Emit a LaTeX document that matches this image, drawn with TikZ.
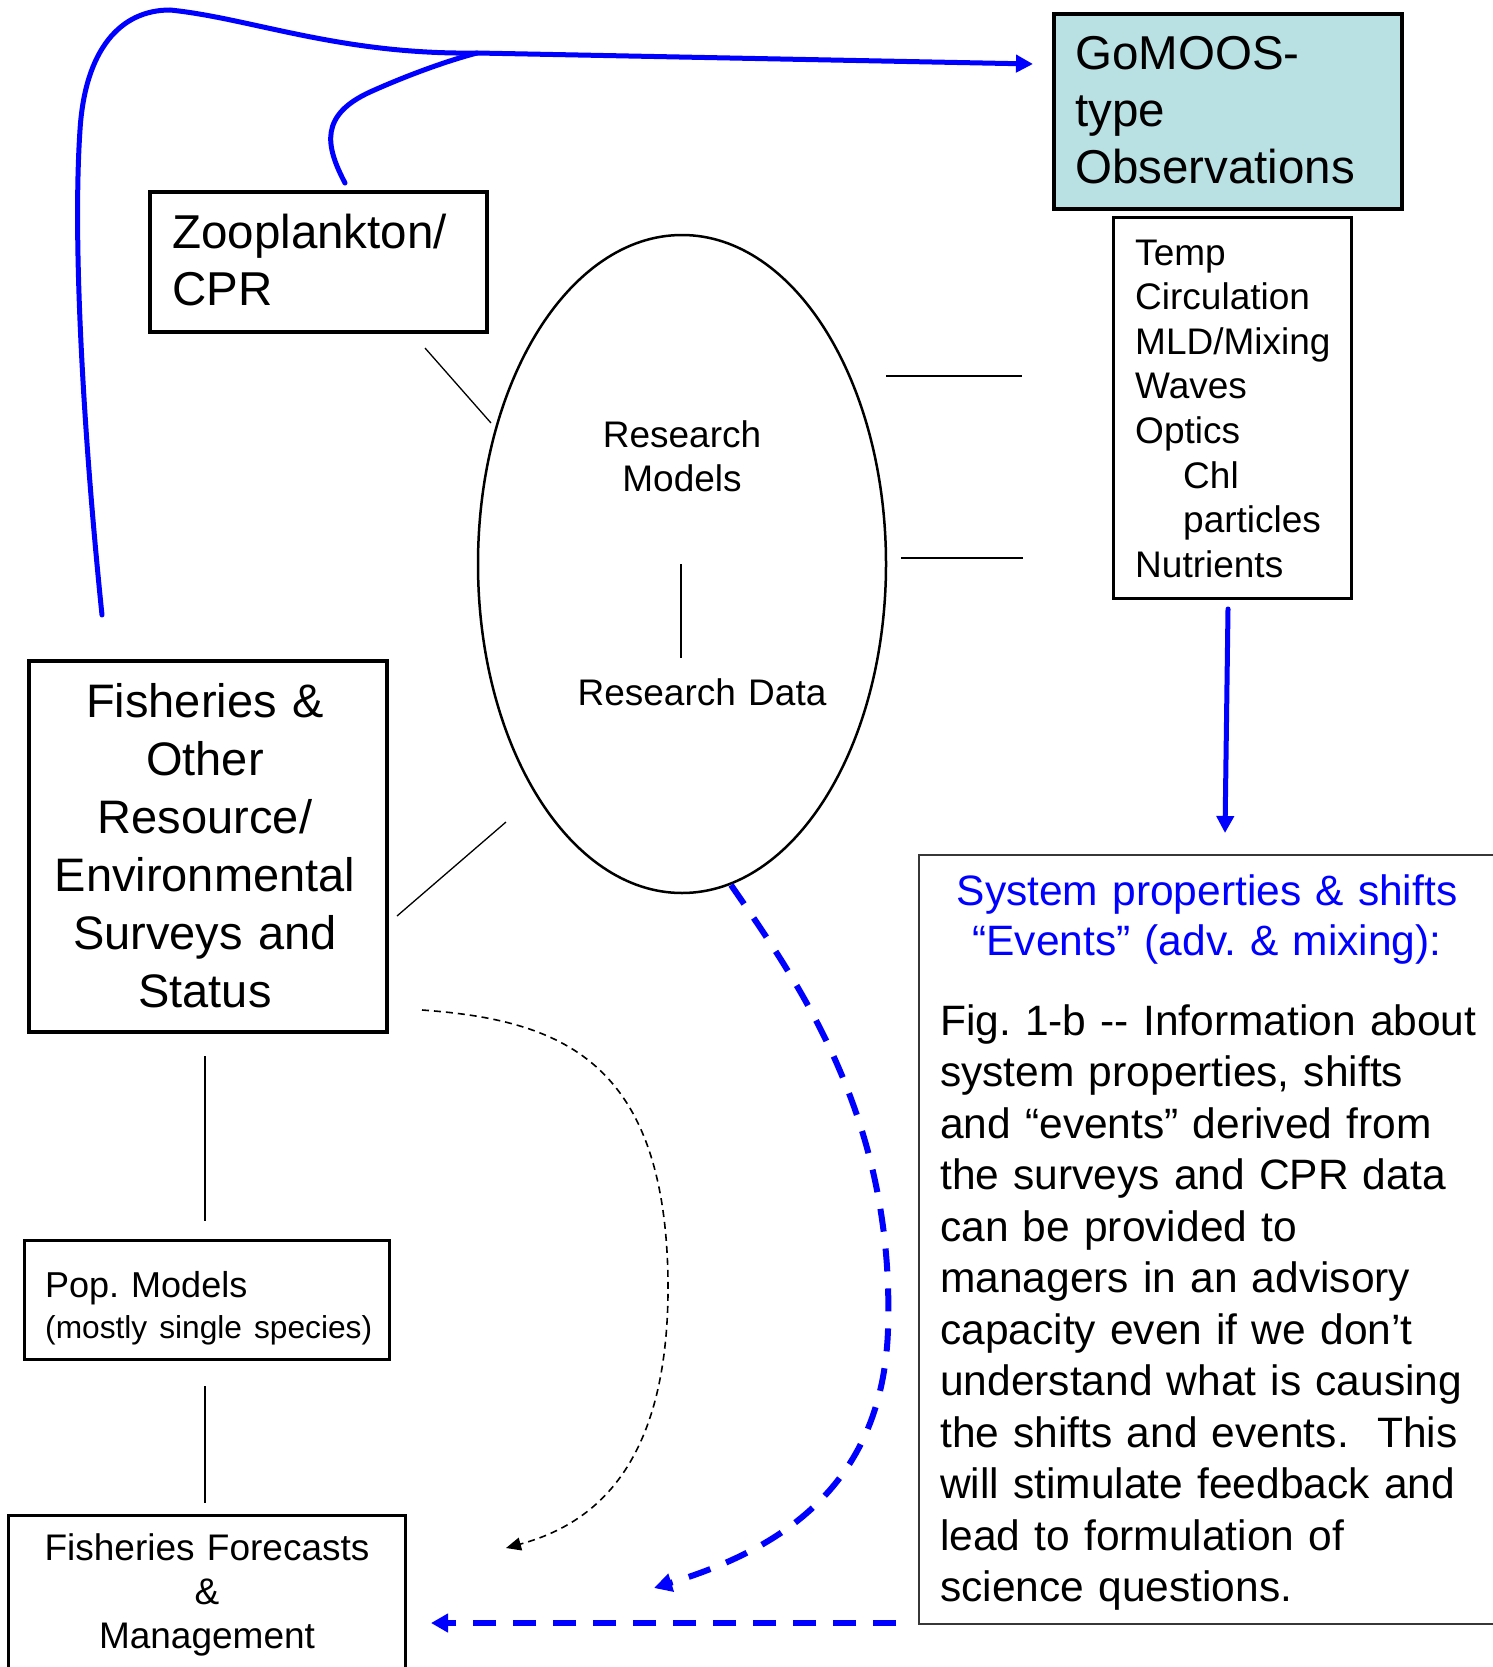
\documentclass[tikz,border=0pt]{standalone}
\usepackage{fontspec}
\setmainfont{Liberation Sans}
\usetikzlibrary{arrows.meta,shapes.geometric}

\definecolor{gomoosfill}{RGB}{185,224,227}
\definecolor{flowblue}{RGB}{0,0,255}
\definecolor{framegray}{RGB}{55,55,55}

\tikzset{
  boxframe/.style={draw=black, line width=4pt, rectangle, inner sep=0pt, anchor=north west},
  thinframe/.style={draw=black, line width=2.5pt, rectangle, inner sep=0pt, anchor=north west},
  lbl/.style={inner sep=0pt, anchor=base west, align=left, text width=#1},
  lbl/.default=400pt,
  clbl/.style={inner sep=0pt, anchor=base, align=center, text width=#1},
  clbl/.default=400pt,
  link/.style={draw=black, line width=1.3pt},
  blueflow/.style={draw=flowblue, line width=5pt, line cap=round},
  bluedash/.style={draw=flowblue, line width=6pt, dash pattern=on 23pt off 17pt},
  blackdash/.style={draw=black, line width=1.6pt, dash pattern=on 7pt off 5pt},
  bluetip/.style={-{Triangle[length=17pt,width=17pt]}},
}

\frenchspacing

\begin{document}
\begin{tikzpicture}[x=1pt,y=-1pt]
  % canvas
  \fill[white] (0,0) rectangle (1492,1667);
  \useasboundingbox (0,0) rectangle (1492,1667);

  % ---- boxes ----
  \node[boxframe, fill=gomoosfill, minimum width=348pt, minimum height=195pt] (gomoos) at (1052,12) {};
  \node[lbl, font=\fontsize{47.5}{57}\selectfont] (gomoosText) at (1075,70) {GoMOOS-\\type\\Observations};

  \node[thinframe, minimum width=238pt, minimum height=381pt] (vars) at (1112,216) {};
  \node[lbl, font=\fontsize{37}{44.6}\selectfont] (varsText) at (1135,265)
    {Temp\\Circulation\\MLD/Mixing\\Waves\\Optics\\\hspace*{48pt}Chl\\\hspace*{48pt}particles\\Nutrients};

  \node[boxframe, minimum width=337pt, minimum height=140pt] (zoo) at (148,190) {};
  \node[lbl, font=\fontsize{47.5}{57}\selectfont] (zooText) at (172,248) {Zooplankton/\\CPR};

  \node[boxframe, minimum width=358pt, minimum height=371pt] (fish) at (27,659) {};
  \node[clbl, font=\fontsize{47}{58}\selectfont] (fishText) at (205,717)
    {Fisheries \&\\Other\\Resource/\\Environmental\\Surveys and\\Status};

  \node[thinframe, minimum width=365pt, minimum height=119pt] (pop) at (23,1239) {};
  \node[lbl, font=\fontsize{36}{41}\selectfont] (popText) at (45,1297)
    {Pop. Models\\{\fontsize{31.7}{41}\selectfont (mostly single species)}};

  \node[thinframe, line width=3pt, minimum width=397pt, minimum height=170pt] (fcast) at (7,1514) {};
  \node[clbl, font=\fontsize{37}{44}\selectfont] (fcastText) at (207,1560)
    {Fisheries Forecasts\\\&\\Management};

  \node[draw=black, line width=2.5pt, ellipse, inner sep=0pt,
        minimum width=408pt, minimum height=658pt] (research) at (682,564) {};
  \node[clbl, font=\fontsize{37}{44}\selectfont] (modelsText) at (682,447) {Research\\Models};
  \node[clbl, font=\fontsize{37}{44}\selectfont] (dataText) at (702,705) {Research Data};

  \node[draw=framegray, line width=2pt, rectangle, inner sep=0pt, anchor=north west,
        minimum width=582pt, minimum height=769pt] (info) at (918,854) {};
  \node[clbl=570pt, text=flowblue, font=\fontsize{42.5}{50}\selectfont] (infoTitle) at (1207,905)
    {System properties \& shifts\\“Events” (adv. \& mixing):};
  \node[lbl=560pt, font=\fontsize{42.5}{51.5}\selectfont] (infoBody) at (940,1035)
    {Fig. 1-b -{}- Information about\\
     system properties, shifts\\
     and “events” derived from\\
     the surveys and CPR data\\
     can be provided to\\
     managers in an advisory\\
     capacity even if we don’t\\
     understand what is causing\\
     the shifts and events.~ This\\
     will stimulate feedback and\\
     lead to formulation of\\
     science questions.};

  % ---- connector end points ----
  \coordinate (zooLink)    at (425,348);
  \coordinate (resLinkA)   at (491,423);
  \coordinate (resLinkB)   at (886,376);
  \coordinate (varsLinkA)  at (1022,376);
  \coordinate (resLinkC)   at (901,558);
  \coordinate (varsLinkB)  at (1023,558);
  \coordinate (fishLink)   at (397,916);
  \coordinate (resLinkD)   at (506,822);
  \coordinate (modelsLink) at (681,564);
  \coordinate (dataLink)   at (681,658);
  \coordinate (fishDown)   at (205,1056);
  \coordinate (popUp)      at (205,1221);
  \coordinate (popDown)    at (205,1386);
  \coordinate (fcastUp)    at (205,1503);

  \coordinate (fishOut)    at (102,615);
  \coordinate (zooOut)     at (345,183);
  \coordinate (junction)   at (477,53);
  \coordinate (gomoosIn)   at (1033,64);
  \coordinate (varsOut)    at (1228,609);
  \coordinate (infoIn)     at (1225,833);
  \coordinate (researchOut) at (731,885);
  \coordinate (fcastInA)   at (654,1588);
  \coordinate (infoOut)    at (896,1623);
  \coordinate (fcastInB)   at (431,1623);
  \coordinate (fishSide)   at (422,1010);
  \coordinate (fcastInC)   at (506,1548);

  % ---- thin links ----
  \draw[link] (zooLink) -- (resLinkA);
  \draw[link] (resLinkB) -- (varsLinkA);
  \draw[link] (resLinkC) -- (varsLinkB);
  \draw[link] (fishLink) -- (resLinkD);
  \draw[link] (modelsLink) -- (dataLink);
  \draw[link] (fishDown) -- (popUp);
  \draw[link] (popDown) -- (fcastUp);

  % ---- blue flows ----
  \draw[blueflow, bluetip] (fishOut)
      .. controls (85,450) and (72,250) .. (80,130)
      .. controls (85,50) and (120,10) .. (170,10)
      .. controls (250,18) and (340,55) .. (junction)
      -- (gomoosIn);
  \draw[blueflow] (zooOut)
      .. controls (325,145) and (320,115) .. (370,92)
      .. controls (410,74) and (450,60) .. (junction);
  \draw[blueflow, bluetip] (varsOut) -- (infoIn);

  \draw[bluedash, -{Triangle[length=18pt,width=18pt]}] (researchOut)
      .. controls (800,985) and (895,1120) .. (888,1330)
      .. controls (882,1500) and (760,1555) .. (fcastInA);
  \draw[bluedash, -{Triangle[length=17pt,width=18pt]}] (infoOut) -- (fcastInB);

  \draw[blackdash, -{Triangle[length=15pt,width=13pt]}] (fishSide)
      .. controls (560,1020) and (665,1060) .. (668,1280)
      .. controls (670,1470) and (590,1525) .. (fcastInC);
\end{tikzpicture}
\end{document}
